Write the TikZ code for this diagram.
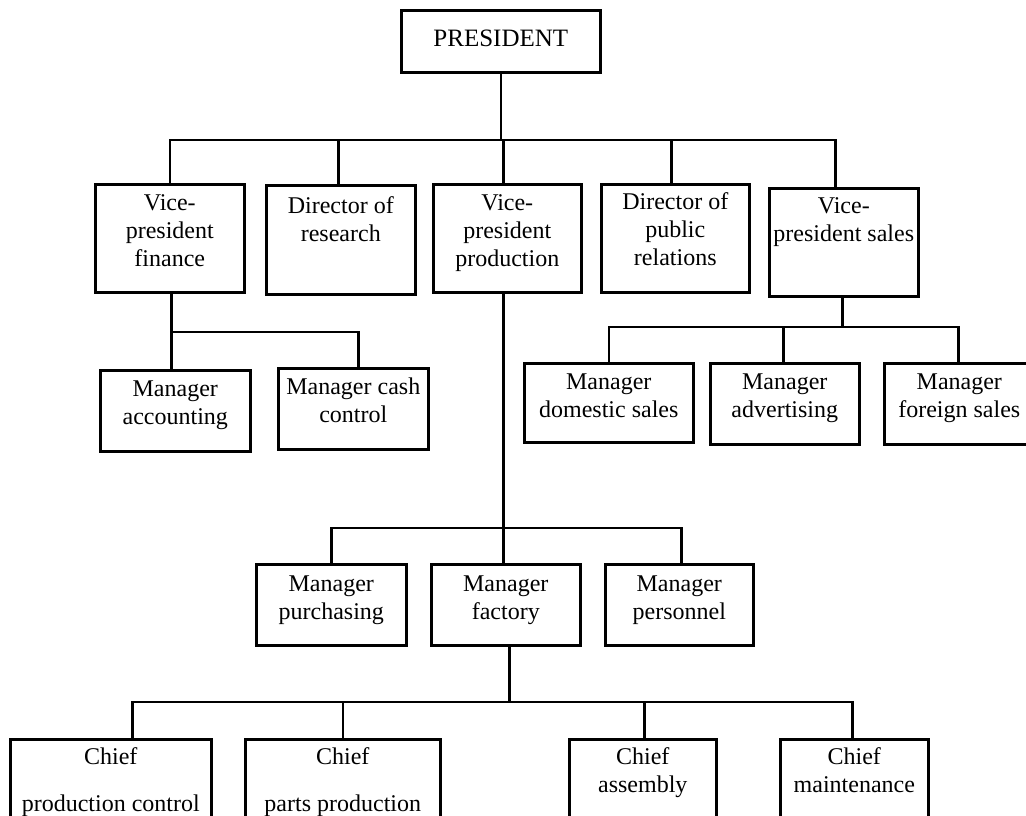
\documentclass[tikz,border=0pt]{standalone}
\usepackage{fontspec}
\setmainfont{Liberation Serif}
% box content: width, height, first baseline depth, text
\newcommand{\obox}[4]{\parbox[t][#2][t]{#1}{\centering\rule{0pt}{#3}#4}}
\begin{document}
\begin{tikzpicture}[x=1pt,y=-1pt,line width=2.6pt,line cap=rect,
  unit/.style={draw,rectangle,inner sep=0pt,anchor=north west,
    font=\fontsize{24}{28}\selectfont},
  link/.style={draw,line width=2.6pt}]
\useasboundingbox (0,0) rectangle (1026,815);
\clip (0,0) rectangle (1026,815);

% top
\node[unit,font=\fontsize{25}{28}\selectfont] (P) at (400,9) {\obox{199pt}{62pt}{36pt}{PRESIDENT}};

% first level
\node[unit] (VPF) at (94,183)  {\obox{149pt}{108pt}{26pt}{Vice-\\president\\finance}};
\node[unit] (DR)  at (265,184) {\obox{149pt}{109pt}{28pt}{Director of\\research}};
\node[unit] (VPP) at (432,183) {\obox{148pt}{108pt}{26pt}{Vice-\\president\\production}};
\node[unit] (DPR) at (600,183) {\obox{148pt}{108pt}{25pt}{Director of\\public\\relations}};
\node[unit] (VPS) at (768,187) {\obox{149pt}{108pt}{25pt}{Vice-\\president sales}};

% finance
\node[unit] (MA) at (99,369)  {\obox{150pt}{81pt}{26pt}{Manager\\accounting}};
\node[unit] (MC) at (277,367) {\obox{150pt}{81pt}{26pt}{Manager cash\\control}};

% sales
\node[unit] (MD)  at (523,362) {\obox{169pt}{79pt}{26pt}{Manager\\domestic sales}};
\node[unit] (MAd) at (709,362) {\obox{149pt}{81pt}{26pt}{Manager\\advertising}};
\node[unit] (MF)  at (883,362) {\obox{150pt}{81pt}{26pt}{Manager\\foreign sales}};

% production
\node[unit] (MP)  at (255,563) {\obox{150pt}{81pt}{27pt}{Manager\\purchasing}};
\node[unit] (MFa) at (430,563) {\obox{149pt}{81pt}{27pt}{Manager\\factory}};
\node[unit] (MPe) at (604,563) {\obox{148pt}{81pt}{27pt}{Manager\\personnel}};

% factory
\node[unit] (CPC) at (9,738)   {\obox{201pt}{100pt}{25pt}{Chief\\[19pt]production control}};
\node[unit] (CPP) at (244,738) {\obox{195pt}{100pt}{25pt}{Chief\\[19pt]parts production}};
\node[unit] (CA)  at (568,738) {\obox{147pt}{100pt}{25pt}{Chief\\assembly}};
\node[unit] (CM)  at (779,738) {\obox{148pt}{100pt}{25pt}{Chief\\maintenance}};

% bus levels
\coordinate (busA) at (0,140);
\coordinate (busF) at (0,332);
\coordinate (busS) at (0,327);
\coordinate (busP) at (0,528);
\coordinate (busC) at (0,702);

% president to first level
\draw (P.south) -- (P.south |- busA);
\draw (VPF.north |- busA) -- ([xshift=-8.5pt]VPS.north |- busA);
\draw (VPF.north) -- (VPF.north |- busA);
\draw ([xshift=-2.5pt]DR.north) -- ([xshift=-2.5pt]DR.north |- busA);
\draw ([xshift=-4pt]VPP.north) -- ([xshift=-4pt]VPP.north |- busA);
\draw ([xshift=-4pt]DPR.north) -- ([xshift=-4pt]DPR.north |- busA);
\draw ([xshift=-8.5pt]VPS.north) -- ([xshift=-8.5pt]VPS.north |- busA);

% finance branch
\draw ([xshift=1.5pt]VPF.south) -- ([xshift=1.5pt]VPF.south |- MA.north);
\draw ([xshift=1.5pt]VPF.south |- busF) -- ([xshift=5pt]MC.north |- busF);
\draw ([xshift=5pt]MC.north) -- ([xshift=5pt]MC.north |- busF);

% sales branch
\draw ([xshift=-1.5pt]VPS.south) -- ([xshift=-1.5pt]VPS.south |- busS);
\draw (MD.north |- busS) -- ([xshift=-1pt]MF.north |- busS);
\draw (MD.north) -- (MD.north |- busS);
\draw ([xshift=-1.5pt]MAd.north) -- ([xshift=-1.5pt]MAd.north |- busS);
\draw ([xshift=-1pt]MF.north) -- ([xshift=-1pt]MF.north |- busS);

% production branch
\draw ([xshift=-4pt]VPP.south) -- ([xshift=-4pt]VPP.south |- MFa.north);
\draw (MP.north |- busP) -- ([xshift=2pt]MPe.north |- busP);
\draw (MP.north) -- (MP.north |- busP);
\draw ([xshift=2pt]MPe.north) -- ([xshift=2pt]MPe.north |- busP);

% factory branch
\draw ([xshift=3.5pt]MFa.south) -- ([xshift=3.5pt]MFa.south |- busC);
\draw ([xshift=21.5pt]CPC.north |- busC) -- ([xshift=-2pt]CM.north |- busC);
\draw ([xshift=21.5pt]CPC.north) -- ([xshift=21.5pt]CPC.north |- busC);
\draw (CPP.north) -- (CPP.north |- busC);
\draw ([xshift=1.5pt]CA.north) -- ([xshift=1.5pt]CA.north |- busC);
\draw ([xshift=-2pt]CM.north) -- ([xshift=-2pt]CM.north |- busC);
\end{tikzpicture}
\end{document}
